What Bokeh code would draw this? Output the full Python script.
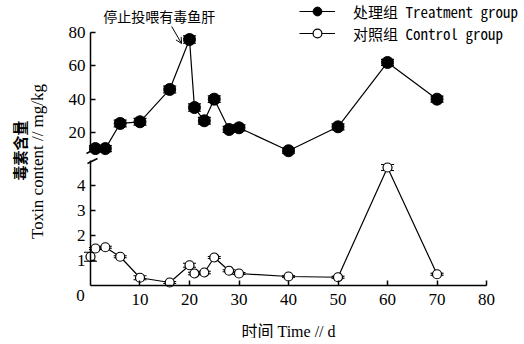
from math import pi
from bokeh.plotting import figure
from bokeh.models import (ColumnDataSource, Legend, LegendItem, Whisker, TeeHead, Label,
                          Arrow, OpenHead, FixedTicker, Range1d, LinearAxis)
from bokeh.embed import file_html
from bokeh.resources import INLINE

# ---- data ----
days_treat = [1, 3, 6, 10, 16, 20, 21, 23, 25, 28, 30, 40, 50, 60, 70]
toxin_treat = [10.4, 10.4, 25.4, 26.4, 45.7, 75.5, 34.9, 27.0, 39.9, 21.8, 22.8, 9.1, 23.4, 61.8, 39.9]
err_treat = [1.8, 1.8, 2.0, 2.0, 2.0, 2.2, 2.2, 2.0, 2.0, 1.8, 1.8, 1.5, 1.8, 1.8, 1.8]

days_ctrl = [0, 1, 3, 6, 10, 16, 20, 21, 23, 25, 28, 30, 40, 50, 60, 70]
toxin_ctrl = [1.15, 1.48, 1.53, 1.15, 0.31, 0.12, 0.81, 0.48, 0.52, 1.12, 0.59, 0.48, 0.36, 0.33, 4.72, 0.45]
err_ctrl = [0.18, 0.04, 0.04, 0.04, 0.08, 0.04, 0.08, 0.05, 0.05, 0.04, 0.04, 0.04, 0.03, 0.04, 0.12, 0.04]

x_ticks = [10, 20, 30, 40, 50, 60, 70, 80]
y_ticks_upper = [20, 40, 60, 80]
y_ticks_lower = [1, 2, 3, 4]

# axis break: upper segment ends / lower segment begins (value units of each part)
upper_axis_bounds = (8.7, 80)
lower_axis_bounds = (0, 5.0)

label_treat = "处理组 Treatment group"
label_ctrl = "对照组 Control group"
note_text = "停止投喂有毒鱼肝"
x_title = "时间 Time // d"
y_title_cn = "毒素含量"
y_title_en = "Toxin content // mg/kg"

SERIF = "Liberation Serif"
CJK = "Noto Sans CJK SC"
MIXED = "'Liberation Serif', 'Noto Sans CJK SC'"
LEGEND_FONT = "'Noto Sans Mono CJK SC', 'Liberation Mono'"

src_t = ColumnDataSource(dict(
    x=days_treat, y=toxin_treat,
    lower=[v - e for v, e in zip(toxin_treat, err_treat)],
    upper=[v + e for v, e in zip(toxin_treat, err_treat)]))
src_c = ColumnDataSource(dict(
    x=days_ctrl, y=toxin_ctrl,
    lower=[v - e for v, e in zip(toxin_ctrl, err_ctrl)],
    upper=[v + e for v, e in zip(toxin_ctrl, err_ctrl)]))

# one frame, two vertical scales: lower part (0-5) on the default range,
# upper part (10-80) on the "up" range
p = figure(width=518, height=338, x_range=Range1d(-18.18, 86.46), y_range=Range1d(-2.12, 11.4),
           output_backend="svg", toolbar_location=None, min_border=0,
           outline_line_color=None)
p.extra_y_ranges = {"up": Range1d(-102.99, 98.81)}
p.grid.visible = False


def style_axis(ax):
    ax.axis_line_width = 1.5
    ax.axis_line_color = "black"
    ax.major_tick_line_width = 1.5
    ax.major_tick_line_color = "black"
    ax.major_tick_in = 5
    ax.major_tick_out = 0
    ax.minor_tick_line_color = None
    ax.major_label_text_font = SERIF
    ax.major_label_text_font_size = "17px"
    ax.major_label_text_color = "black"
    ax.fixed_location = 0


# lower y axis
ylo = p.yaxis[0]
style_axis(ylo)
ylo.ticker = FixedTicker(ticks=y_ticks_lower)
ylo.bounds = lower_axis_bounds
ylo.major_label_standoff = 5

# upper y axis
yup = LinearAxis(y_range_name="up")
p.add_layout(yup, "left")
style_axis(yup)
yup.ticker = FixedTicker(ticks=y_ticks_upper)
yup.bounds = upper_axis_bounds
yup.major_label_standoff = 5

# x axis
xa = p.xaxis[0]
style_axis(xa)
xa.ticker = FixedTicker(ticks=x_ticks)
xa.bounds = (0, 80)
xa.major_label_standoff = 8
xa.axis_label = x_title
xa.axis_label_text_font = MIXED
xa.axis_label_text_font_size = "16px"
xa.axis_label_text_font_style = "normal"
xa.axis_label_text_color = "black"
xa.axis_label_standoff = 15

# shared origin label
p.add_layout(Label(x=0, y=0, text="0", x_offset=-10, y_offset=-10, text_font=SERIF,
                   text_font_size="17px", text_align="center", text_baseline="middle",
                   text_color="black"))

# axis break marks
p.add_layout(Arrow(x_start=-0.81, y_start=7.46, x_end=1.41, y_end=11.0, end=None,
                   line_width=1.5, y_range_name="up"))
p.add_layout(Arrow(x_start=-0.61, y_start=4.88, x_end=1.41, y_end=5.08, end=None,
                   line_width=1.5))

# treatment group (upper scale)
p.add_layout(Whisker(source=src_t, base="x", lower="lower", upper="upper", dimension="height",
                     line_width=1.0, y_range_name="up",
                     lower_head=TeeHead(size=13, line_width=1.2),
                     upper_head=TeeHead(size=13, line_width=1.2)))
t_line = p.line("x", "y", source=src_t, line_color="black", line_width=1.2, y_range_name="up")
t_pts = p.scatter("x", "y", source=src_t, size=12, marker="circle",
                  fill_color="black", line_color="black", y_range_name="up")

# control group (lower scale)
p.add_layout(Whisker(source=src_c, base="x", lower="lower", upper="upper", dimension="height",
                     line_width=1.0,
                     lower_head=TeeHead(size=13, line_width=1.2),
                     upper_head=TeeHead(size=13, line_width=1.2)))
c_line = p.line("x", "y", source=src_c, line_color="black", line_width=1.2)
c_pts = p.scatter("x", "y", source=src_c, size=9, marker="circle",
                  fill_color="white", line_color="black", line_width=1.2)

legend = Legend(items=[LegendItem(label=label_treat, renderers=[t_line, t_pts]),
                       LegendItem(label=label_ctrl, renderers=[c_line, c_pts])],
                location="top_right", border_line_color=None, background_fill_alpha=0,
                label_text_font=LEGEND_FONT, label_text_font_size="15px",
                label_text_color="black",
                glyph_width=36, glyph_height=22, label_standoff=18, spacing=-3,
                padding=4, margin=0)
p.add_layout(legend)

# annotation with arrow at the peak
p.add_layout(Label(x=13.9, y=89.3, y_range_name="up", text=note_text, text_font=CJK,
                   text_font_size="14px", text_align="center", text_baseline="middle",
                   text_color="black"))
p.add_layout(Arrow(x_start=16.4, y_start=83.3, x_end=18.4, y_end=73.1, y_range_name="up",
                   end=OpenHead(size=6, line_width=1), line_width=1))

# y-axis title (two lines)
p.add_layout(Label(x=-14.34, y=5.4, text=y_title_cn, angle=pi / 2, text_font=CJK,
                   text_font_size="15px", text_font_style="bold", text_align="center",
                   text_baseline="middle", text_color="black"))
p.add_layout(Label(x=-10.71, y=4.96, text=y_title_en, angle=pi / 2, text_font=SERIF,
                   text_font_size="17px", text_align="center", text_baseline="middle",
                   text_color="black"))

open("out.html", "w").write(file_html(p, INLINE))
